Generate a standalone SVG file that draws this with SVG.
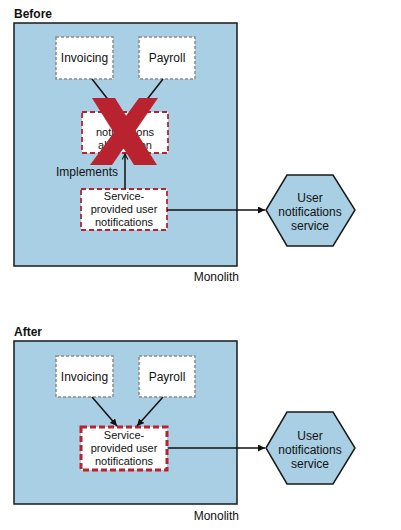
<svg xmlns="http://www.w3.org/2000/svg" width="401" height="530" viewBox="0 0 401 530">
<defs>
<marker id="ah" viewBox="0 0 10 10" refX="10" refY="5" markerWidth="7" markerHeight="7" markerUnits="userSpaceOnUse" orient="auto">
<path d="M0,0 L10,5 L0,10 z" fill="#111"/>
</marker>
<marker id="ao" viewBox="0 0 10 10" refX="9" refY="5" markerWidth="7" markerHeight="7" markerUnits="userSpaceOnUse" orient="auto">
<path d="M1,1 L9,5 L1,9" fill="none" stroke="#111" stroke-width="1.5"/>
</marker>
</defs>
<style>
text{font-family:"Liberation Sans",Arial,sans-serif;font-size:12px;fill:#111}
.title{font-weight:bold}
.mid{text-anchor:middle}
.sm{font-size:11px}
.mono{fill:#a9cfe4;stroke:#1a1a1a;stroke-width:1.5}
.gray{fill:#fff;stroke:#8c8c8c;stroke-width:1.5;stroke-dasharray:3 2}
.red{fill:#fff;stroke:#b8232f;stroke-width:1.8;stroke-dasharray:5 3}
.redthick{fill:#fff;stroke:#b8232f;stroke-width:3;stroke-dasharray:6 3}
.hex{fill:#a9cfe4;stroke:#1a1a1a;stroke-width:1.5}
.edge{stroke:#111;stroke-width:1.5;fill:none;marker-end:url(#ah)}
.edgeo{stroke:#111;stroke-width:1.5;fill:none;marker-end:url(#ao)}
.x{fill:#b8232f}
</style>

<!-- BEFORE -->
<g id="before-title"><text class="title" x="14" y="18">Before</text></g>
<g id="monolith-before">
<rect class="mono" x="14" y="23" width="223" height="243"/>
<text x="239" y="281" text-anchor="end">Monolith</text>
</g>
<g id="invoicing-before">
<rect class="gray" x="56" y="37" width="57" height="42"/>
<text class="mid" x="84.5" y="62">Invoicing</text>
</g>
<g id="payroll-before">
<rect class="gray" x="139" y="37" width="56" height="42"/>
<text class="mid" x="167" y="62">Payroll</text>
</g>
<g id="abstraction-before">
<rect class="red" x="82" y="112" width="86" height="41"/>
<text class="mid sm" x="125" y="123">User</text>
<text class="mid sm" x="125" y="136">notifications</text>
<text class="mid sm" x="125" y="149">abstraction</text>
</g>
<g id="service-before">
<rect class="red" x="81" y="189" width="86" height="41"/>
<text class="mid sm" x="124" y="200">Service-</text>
<text class="mid sm" x="124" y="213">provided user</text>
<text class="mid sm" x="124" y="226">notifications</text>
</g>
<g id="uns-before">
<polygon class="hex" points="266,210 287,175 333,175 355,210 333,246 287,246"/>
<text class="mid" x="310" y="202">User</text>
<text class="mid" x="310" y="216">notifications</text>
<text class="mid" x="310" y="230">service</text>
</g>
<g id="connectors-before">
<line class="edge" x1="92" y1="79" x2="117" y2="111"/>
<line class="edge" x1="163" y1="79" x2="138" y2="111"/>
<line class="edgeo" x1="125" y1="189" x2="125" y2="154"/>
<text x="118" y="176" text-anchor="end">Implements</text>
<line class="edge" x1="167" y1="210" x2="265" y2="210"/>
</g>
<g id="cross">
<polygon class="x" points="92,98 115,98 157,165 134,165"/>
<polygon class="x" points="139,98 158,98 112,165 90,165"/>
</g>

<!-- AFTER -->
<g id="after-title"><text class="title" x="14" y="336">After</text></g>
<g id="monolith-after">
<rect class="mono" x="14" y="341" width="223" height="163"/>
<text x="239" y="520" text-anchor="end">Monolith</text>
</g>
<g id="invoicing-after">
<rect class="gray" x="56" y="356" width="57" height="41"/>
<text class="mid" x="84.5" y="381">Invoicing</text>
</g>
<g id="payroll-after">
<rect class="gray" x="139" y="356" width="56" height="41"/>
<text class="mid" x="167" y="381">Payroll</text>
</g>
<g id="service-after">
<rect class="redthick" x="81" y="427" width="86" height="43"/>
<text class="mid sm" x="124" y="439">Service-</text>
<text class="mid sm" x="124" y="452">provided user</text>
<text class="mid sm" x="124" y="465">notifications</text>
</g>
<g id="uns-after">
<polygon class="hex" points="266,448 287,412 333,412 355,448 333,484 287,484"/>
<text class="mid" x="310" y="440">User</text>
<text class="mid" x="310" y="454">notifications</text>
<text class="mid" x="310" y="468">service</text>
</g>
<g id="connectors-after">
<line class="edge" x1="92" y1="397" x2="117" y2="426"/>
<line class="edge" x1="163" y1="397" x2="137" y2="426"/>
<line class="edge" x1="168" y1="448" x2="265" y2="448"/>
</g>
</svg>
